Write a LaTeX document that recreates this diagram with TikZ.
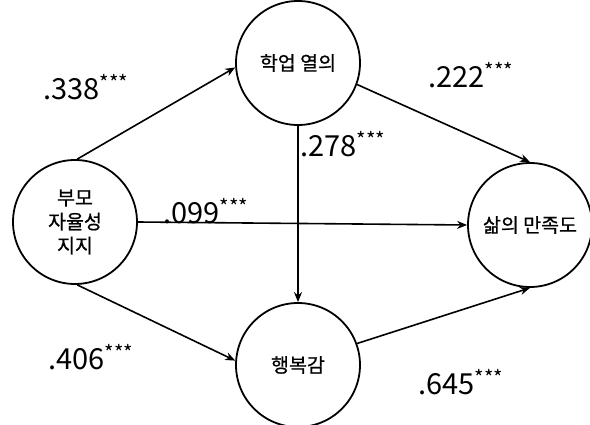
\documentclass[tikz,border=0pt]{standalone}
\usepackage{fontspec}
\newfontfamily\kr{Noto Sans CJK KR}
\newfontfamily\krb[FakeBold=0.8]{Noto Sans CJK KR}
\usetikzlibrary{arrows.meta}
\tikzset{
  var/.style={circle, draw, line width=1.8pt, minimum size=124pt, inner sep=0pt,
    align=center, font=\krb\fontsize{19.5}{24}\selectfont},
  path/.style={-{Stealth[length=10pt,width=8pt]}, line width=1.6pt},
  coef/.style={inner sep=0pt, anchor=base west, font=\kr\fontsize{29}{30}\selectfont}
}
\newcommand{\stars}{\textsuperscript{***}}
\begin{document}
\begin{tikzpicture}[x=1pt,y=-1pt]
\useasboundingbox (0,0) rectangle (590,425);
% latent variables
\node[var] (support) at (75,222) {부모\\자율성\\지지};
\node[var] (passion) at (298,63) {학업 열의};
\node[var] (happy) at (298,365) {행복감};
\node[var] (life) at (530,225) {삶의 만족도};
% paths
\draw[path] (support.88) -- (passion.184);
\draw[path] (support.272) -- (happy.176);
\draw[path] (support.east) -- (life.west);
\draw[path] (passion.south) -- (happy.north);
\draw[path] (passion.-20) -- (life.north);
\draw[path] (happy.20) -- (life.south);
% coefficients
\node[coef] (c1) at (43,100) {.338\stars};
\node[coef] (c2) at (428,88) {.222\stars};
\node[coef] (c3) at (300,157) {.278\stars};
\node[coef] (c4) at (163,224) {.099\stars};
\node[coef] (c5) at (48,370) {.406\stars};
\node[coef] (c6) at (418,395) {.645\stars};
\end{tikzpicture}
\end{document}
